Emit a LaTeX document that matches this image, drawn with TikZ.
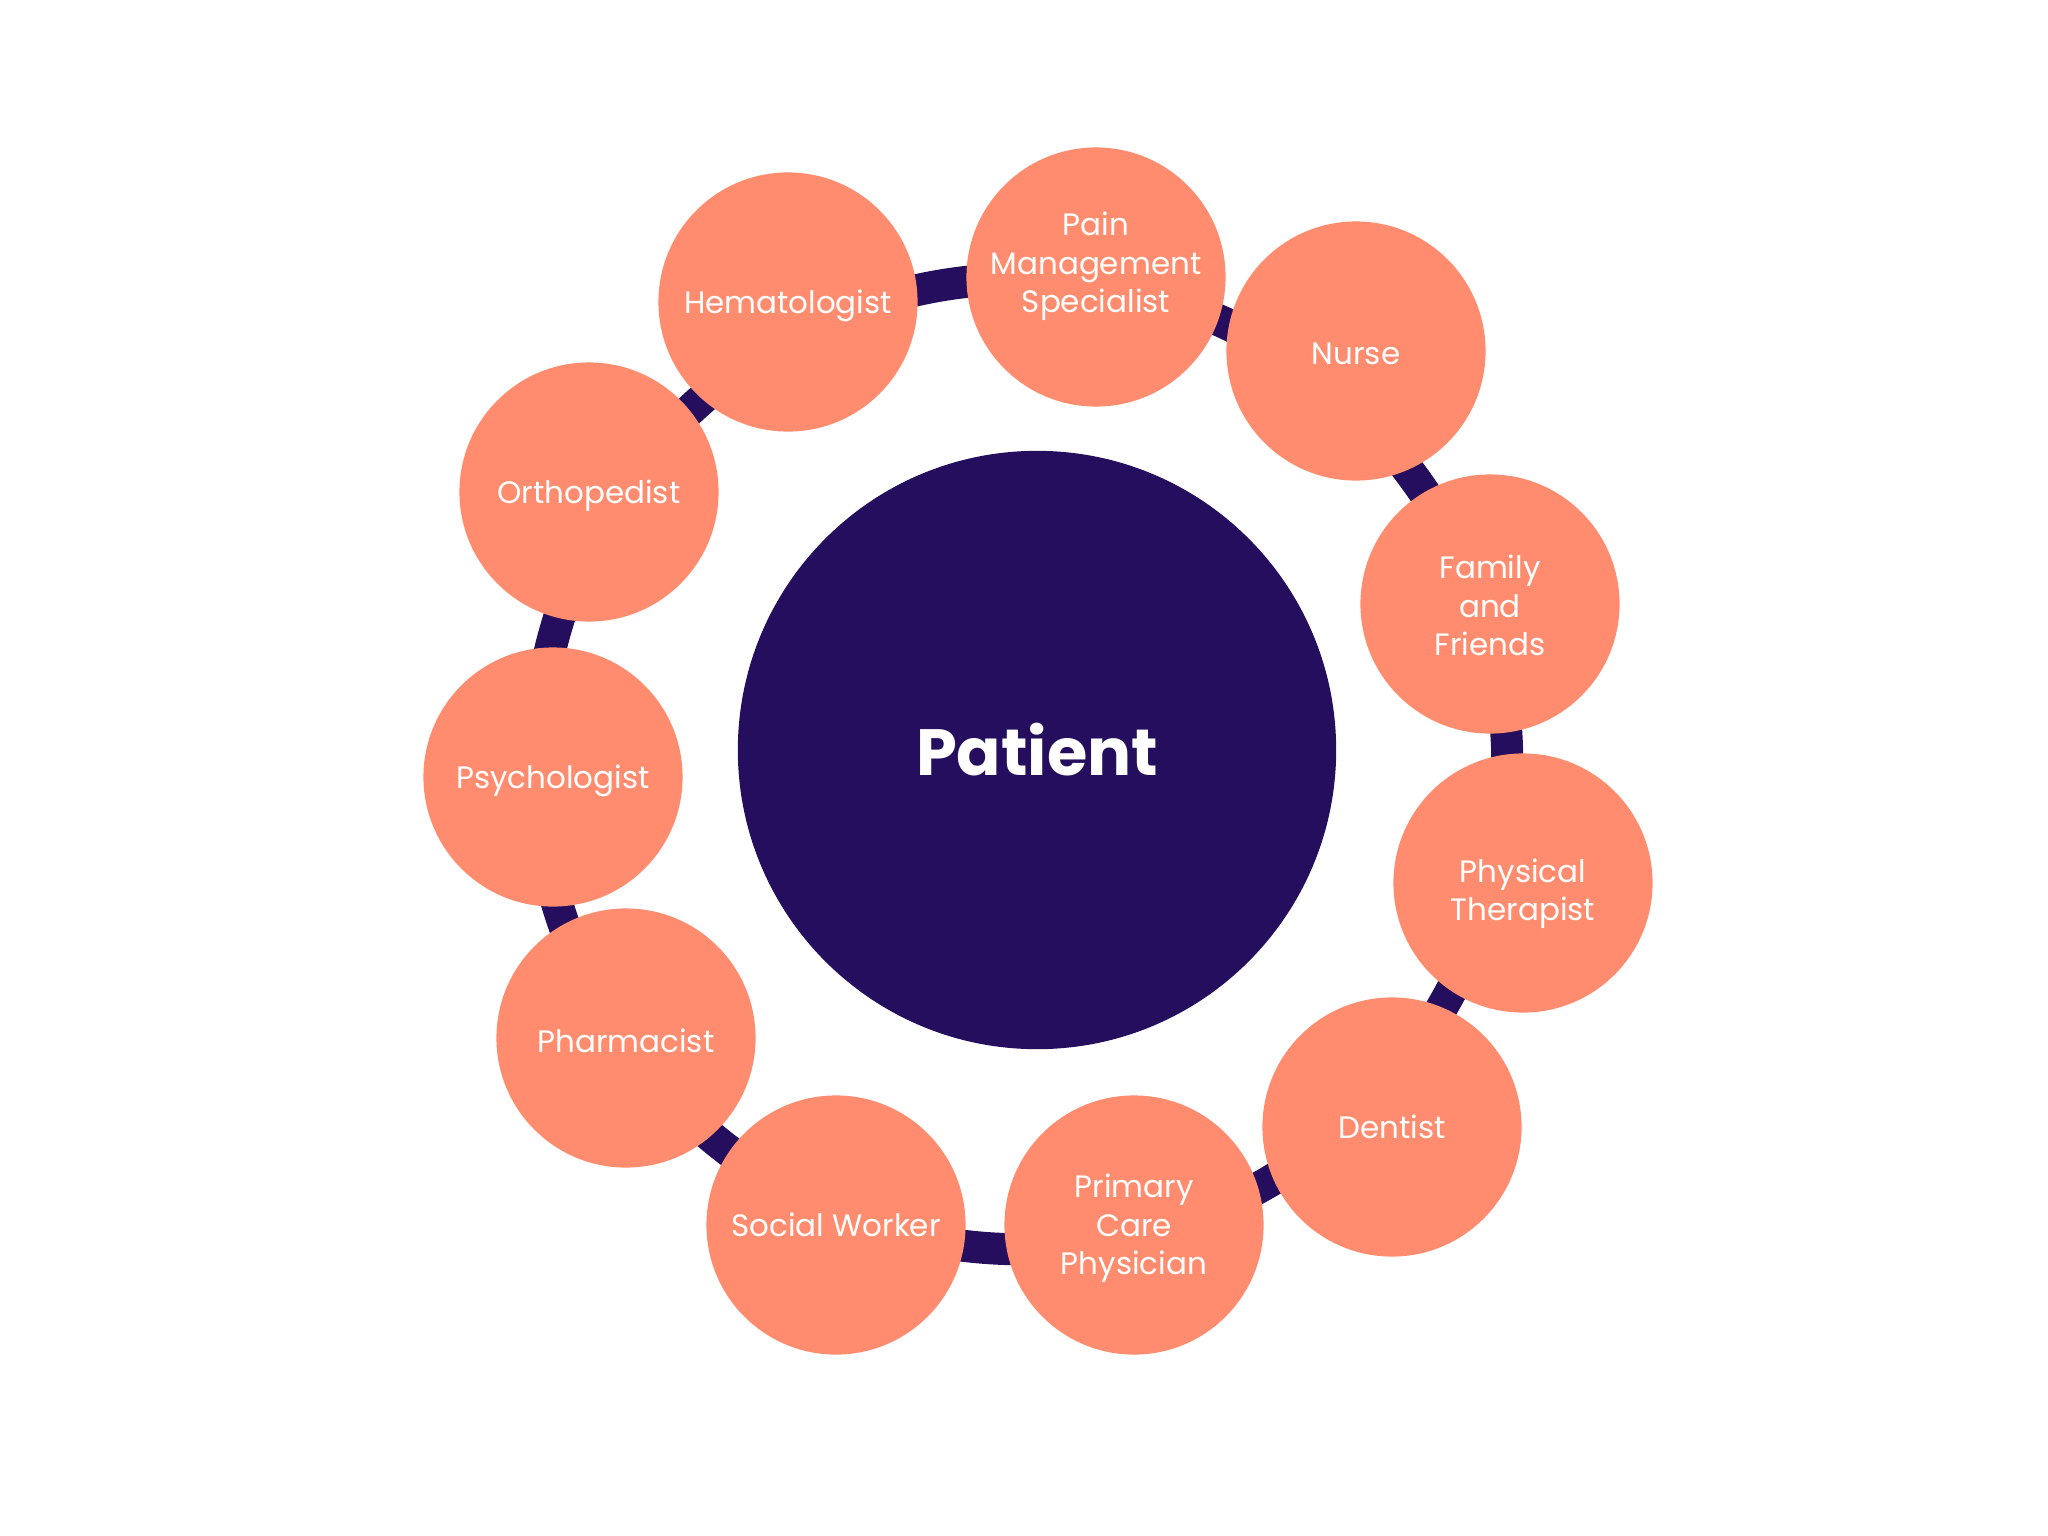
\documentclass[tikz,border=0pt]{standalone}
\usepackage{fontspec}
\setmainfont{Poppins}
\definecolor{navy}{HTML}{250E5E}
\definecolor{salmon}{HTML}{FF8C6E}
\tikzset{member/.style={circle, fill=salmon, inner sep=0pt, minimum size=2.59cm}}
\tikzset{tag/.style={text=white, inner sep=0pt, align=center,
    font=\fontsize{8.8}{10.9}\selectfont}}
\tikzset{hub/.style={circle, fill=navy, text=white, inner sep=0pt,
    minimum size=5.98cm, font=\fontsize{18.6}{21}\selectfont\bfseries}}
\tikzset{ring/.style={circle, draw=navy, line width=0.32cm, minimum size=9.7cm}}

\begin{document}
\begin{tikzpicture}[x=0.01cm, y=-0.01cm]
    \useasboundingbox (0,0) rectangle (2048,1536);
    \node[ring] (ring) at (1022,764) {};
    \node[hub] (patient) at (1037,750) {Patient};
    \node[member] (hema) at (788,302) {};
    \node[member] (pain) at (1096,277) {};
    \node[member] (nurse) at (1356,351) {};
    \node[member] (family) at (1490,604) {};
    \node[member] (physio) at (1523,883) {};
    \node[member] (dentist) at (1392,1127) {};
    \node[member] (primary) at (1134,1225) {};
    \node[member] (social) at (836,1225) {};
    \node[member] (pharma) at (626,1038) {};
    \node[member] (psych) at (553,777) {};
    \node[member] (ortho) at (589,492) {};
    \node[tag, yshift=-1pt] (hematxt) at (hema) {Hematologist};
    \node[tag, yshift=3pt] (paintxt) at (pain) {Pain\\Management\\Specialist};
    \node[tag, yshift=-0.7pt] (nursetxt) at (nurse) {Nurse};
    \node[tag, yshift=-0.4pt] (familytxt) at (family) {Family\\and\\Friends};
    \node[tag, yshift=-3pt] (physiotxt) at (physio) {Physical\\Therapist};
    \node[tag] (dentisttxt) at (dentist) {Dentist};
    \node[tag, yshift=-1pt] (primarytxt) at (primary) {Primary\\Care\\Physician};
    \node[tag] (socialtxt) at (social) {Social Worker};
    \node[tag, yshift=-0.7pt] (pharmatxt) at (pharma) {Pharmacist};
    \node[tag, yshift=-1pt] (psychtxt) at (psych) {Psychologist};
    \node[tag, yshift=-1pt] (orthotxt) at (ortho) {Orthopedist};
\end{tikzpicture}
\end{document}
